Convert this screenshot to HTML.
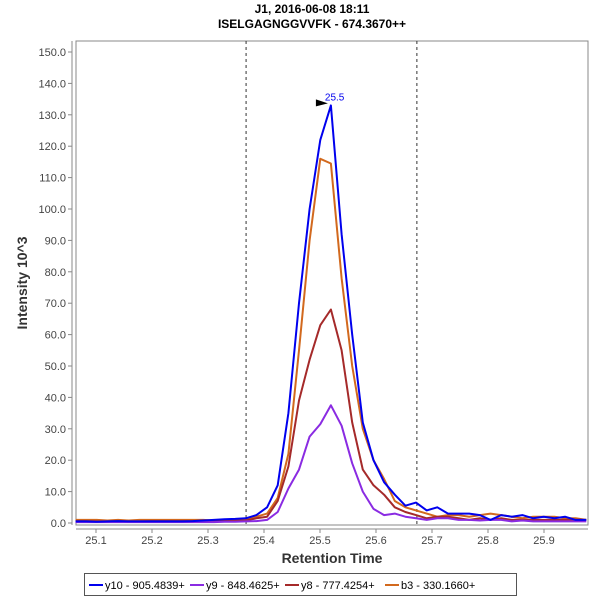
<!DOCTYPE html>
<html><head><meta charset="utf-8"><style>
body{margin:0;background:#fff;font-family:"Liberation Sans",sans-serif}
</style></head><body>
<svg id="c" width="600" height="600" xmlns="http://www.w3.org/2000/svg" font-family="Liberation Sans, sans-serif">
<rect width="600" height="600" fill="#fff"/>
<text x="312" y="13" text-anchor="middle" font-size="12" font-weight="bold">J1, 2016-06-08 18:11</text>
<text x="312" y="28" text-anchor="middle" font-size="12" font-weight="bold">ISELGAGNGGVVFK - 674.3670++</text>
<rect x="76" y="41" width="512" height="484" fill="#fff" stroke="#888"/>
<g id="yt"></g>
<g id="xt"></g>
<text transform="translate(27,283) rotate(-90)" text-anchor="middle" font-size="14" font-weight="bold" fill="#333">Intensity 10^3</text>
<text x="332" y="563" text-anchor="middle" font-size="14" font-weight="bold" fill="#333">Retention Time</text>
<g id="series"></g>
<g id="legend"></g>
</svg>
<script>
const rt0 = 25.0635, rtStep = 0.019;
const y10 = [0.5,0.5,0.4,0.5,0.6,0.5,0.5,0.5,0.5,0.5,0.5,0.6,0.8,1,1.2,1.3,1.5,2.5,5,12,35,70,100,122,133,92,60,32,20,13,9,5.5,6.5,4,5,3,3,3,2.5,1,2.5,2,2.5,1.5,2,1.5,2,1,1];
const y9 = [0.3,0.3,0.3,0.3,0.3,0.3,0.3,0.3,0.3,0.3,0.3,0.3,0.3,0.3,0.4,0.4,0.5,0.6,1,3.5,11,17,27.5,31.5,37.5,31,19,10,4.5,2.5,3,2,1.5,1,1.5,1.5,1,1,0.8,1,1,0.5,0.8,0.5,0.5,0.5,0.5,0.5,0.5];
const y8 = [0.6,0.6,0.5,0.5,0.6,0.5,0.5,0.6,0.6,0.6,0.6,0.6,0.6,0.6,0.7,0.7,0.8,1.5,2,7,18,39,52,63,68,55,32,17,12,9,5,3.5,2.5,1.5,2,2,1.5,1,1.5,1,1.5,1,1,1,1,1,1,1,1];
const b3 = [1,1,1,0.8,1,0.8,1,1,1,1,1,1,1,0.8,1,0.8,1,2,3,8,22,55,90,116,114.5,78,50,30,20,14,7,5,4,3,2,2.5,2.5,2,2.5,3,2.5,2,1.5,2,2,2,1.5,1.5,1];
const seriesNames = ["y10 - 905.4839+","y9 - 848.4625+","y8 - 777.4254+","b3 - 330.1660+"];
const seriesColors = ["#0000ee","#8a2be2","#a52a2a","#d2691e"];
const yTicks = [0,10,20,30,40,50,60,70,80,90,100,110,120,130,140,150];
const xTicks = [25.1,25.2,25.3,25.4,25.5,25.6,25.7,25.8,25.9];
const boundaries = [25.368,25.673];
const apex = {rt:25.5195, val:133, label:"25.5"};

const NS="http://www.w3.org/2000/svg";
const X = v => 96 + (v-25.1)*560;
const Y = v => 523 - v*3.14;
function mk(tag, attrs, parent){const e=document.createElementNS(NS,tag);for(const k in attrs)e.setAttribute(k,attrs[k]);parent.appendChild(e);return e;}
const svg=document.getElementById('c');
const yt=document.getElementById('yt'), xt=document.getElementById('xt');
mk('line',{x1:72,y1:41,x2:72,y2:525,stroke:'#888'},yt);
yTicks.forEach(t=>{
  mk('line',{x1:68,x2:72,y1:Y(t),y2:Y(t),stroke:'#888'},yt);
  const tx=mk('text',{x:66,y:Y(t)+4,'text-anchor':'end','font-size':11,fill:'#444'},yt);
  tx.textContent=t.toFixed(1);
  
  
});
mk('line',{x1:76,y1:529,x2:588,y2:529,stroke:'#888'},xt);
xTicks.forEach(t=>{
  mk('line',{x1:X(t),x2:X(t),y1:529,y2:533,stroke:'#888'},xt);
  const tx=mk('text',{x:X(t),y:544,'text-anchor':'middle','font-size':11,fill:'#444'},xt);
  tx.textContent=t.toFixed(1);
  
  
});
const sg=document.getElementById('series');
boundaries.forEach(b=>{
  const l=mk('line',{x1:X(b),x2:X(b),y1:41,y2:525,stroke:'#333','stroke-dasharray':'3,3'},sg);
  
  
});
const all=[y10,y9,y8,b3];
[3,2,1,0].forEach(si=>{
  const pts=all[si].map((v,i)=>X(rt0+i*rtStep).toFixed(1)+','+Y(v).toFixed(1)).join(' ');
  const p=mk('polyline',{points:pts,fill:'none',stroke:seriesColors[si],'stroke-width':2,'stroke-linejoin':'round'},sg);
  
  
});
const ax=X(apex.rt), ay=Y(apex.val);
const ar=mk('polygon',{points:`${ax-3},${ay-2} ${ax-15},${ay-6} ${ax-15},${ay+1}`,fill:'#000'},sg);


const al=mk('text',{x:ax-6,y:ay-5,'font-size':10,fill:'#0000ee'},sg);
al.textContent=apex.label;


const lg=document.getElementById('legend');
const lb=mk('rect',{x:84.5,y:573.5,width:432,height:22,fill:'#fff',stroke:'#555'},lg);


const lx=[89,190,285,385];
seriesNames.forEach((n,i)=>{
  const g=mk('g',{},lg);
  
  
  mk('line',{x1:lx[i],x2:lx[i]+14,y1:585,y2:585,stroke:seriesColors[i],'stroke-width':2},g);
  const t=mk('text',{x:lx[i]+16,y:589,'font-size':11,fill:'#000'},g);
  t.textContent=n;
});
</script>
</body></html>
